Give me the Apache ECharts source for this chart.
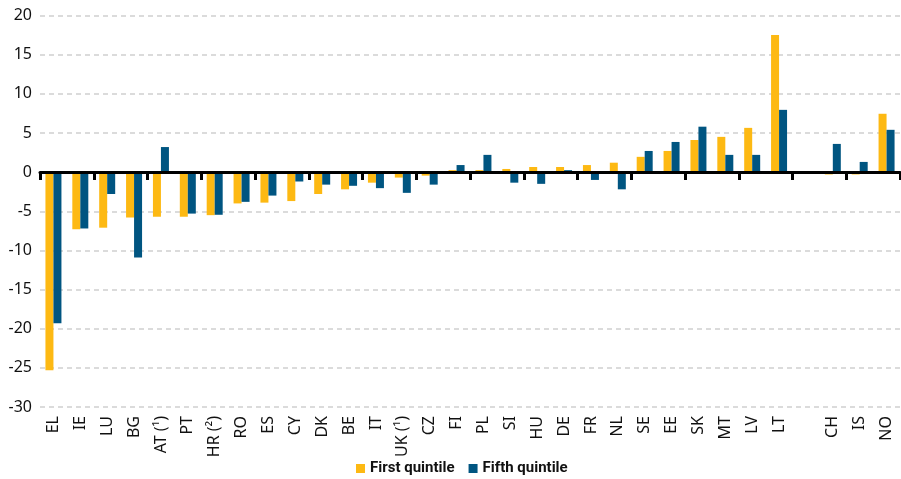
<!DOCTYPE html>
<html>
<head>
<meta charset="utf-8">
<script src="https://cdn.jsdelivr.net/npm/echarts@6/dist/echarts.min.js"></script>
<style>
  html, body { margin: 0; padding: 0; background: #fff; }
  #chart { width: 901px; height: 479px; }
</style>
</head>
<body>
<div id="chart"></div>
<script>
  // countries, with an empty slot between LT and CH
  const countries = ['EL', 'IE', 'LU', 'BG', 'AT (¹)', 'PT', 'HR (²)', 'RO', 'ES', 'CY', 'DK', 'BE', 'IT', 'UK (¹)', 'CZ',
    'FI', 'PL', 'SI', 'HU', 'DE', 'FR', 'NL', 'SE', 'EE', 'SK', 'MT', 'LV', 'LT', '', 'CH', 'IS', 'NO'];
  const firstQuintile = [-25.3, -7.3, -7.1, -5.8, -5.7, -5.7, -5.5, -4.0, -3.9, -3.7, -2.8, -2.2, -1.35, -0.7, -0.45,
    0.25, 0.25, 0.4, 0.65, 0.65, 0.9, 1.2, 1.95, 2.7, 4.1, 4.5, 5.65, 17.5, '-', -0.3, -0.3, 7.45];
  const fifthQuintile = [-19.3, -7.2, -2.8, -10.9, 3.2, -5.3, -5.45, -3.8, -3.0, -1.2, -1.6, -1.75, -2.05, -2.65, -1.6,
    0.9, 2.2, -1.35, -1.5, 0.25, -1.0, -2.2, 2.7, 3.85, 5.8, 2.2, 2.2, 7.95, '-', 3.6, 1.3, 5.4];
  const yTicks = { min: -30, max: 20, step: 5 };

  const chart = echarts.init(document.getElementById('chart'));
  chart.setOption({
    animation: false,
    textStyle: { fontFamily: 'Noto Sans' },
    grid: { left: 40, right: 1, top: 15.5, bottom: 72 },
    legend: {
      bottom: -2,
      left: 351,
      icon: 'rect',
      itemWidth: 9,
      itemHeight: 9,
      itemGap: 14,
      textStyle: { fontSize: 15, fontWeight: 'bold', color: '#111', fontFamily: 'Liberation Sans Narrow, Roboto' },
      data: ['First quintile', 'Fifth quintile']
    },
    xAxis: [
      {
        type: 'category',
        data: countries,
        axisLine: { onZero: true, lineStyle: { color: '#000', width: 3 } },
        axisTick: { show: true, length: 8, lineStyle: { color: '#000', width: 3 } },
        axisLabel: { show: false },
        z: 5
      },
      {
        type: 'category',
        data: countries,
        position: 'bottom',
        axisLine: { show: false, onZero: false },
        axisTick: { show: false },
        axisLabel: { rotate: 90, margin: 9, fontSize: 16, color: '#111', interval: 0 }
      }
    ],
    yAxis: {
      type: 'value',
      min: yTicks.min,
      max: yTicks.max,
      interval: yTicks.step,
      axisLine: { show: false },
      axisTick: { show: false },
      axisLabel: { fontSize: 16, color: '#111', margin: 8 },
      splitLine: { lineStyle: { color: '#d0d0d0', width: 1.5, type: [5, 4] } }
    },
    series: [
      {
        name: 'First quintile',
        type: 'bar',
        data: firstQuintile,
        barWidth: 8,
        barGap: '0%',
        itemStyle: { color: '#FDB913' }
      },
      {
        name: 'Fifth quintile',
        type: 'bar',
        data: fifthQuintile,
        barWidth: 8,
        barGap: '0%',
        itemStyle: { color: '#005581' }
      }
    ]
  });
</script>
</body>
</html>
